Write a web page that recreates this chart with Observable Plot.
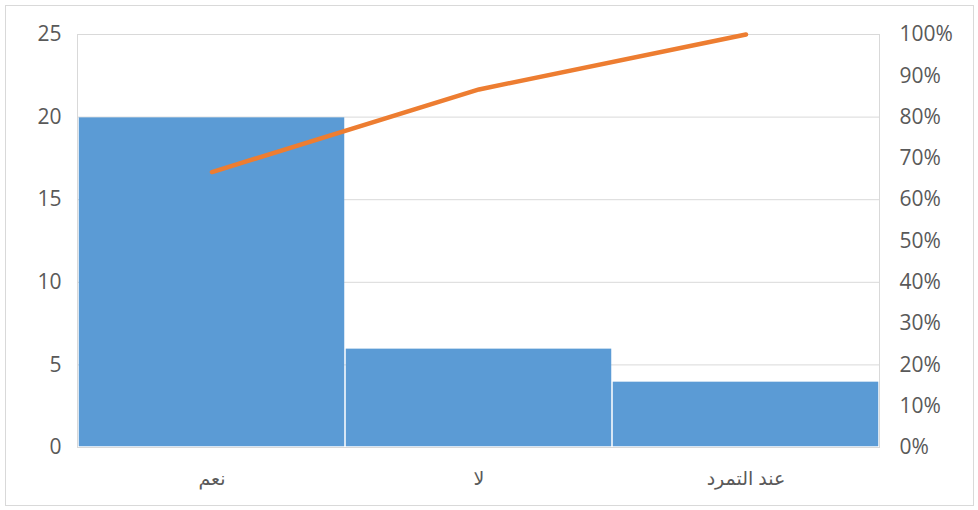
<!DOCTYPE html>
<html><head><meta charset="utf-8">
<script src="https://cdn.jsdelivr.net/npm/d3@7"></script>
<script src="https://cdn.jsdelivr.net/npm/@observablehq/plot@0.6"></script>
<style>body{margin:0;background:#fff}</style>
</head><body><div id="chart"></div>
<script>
const categories = ["نعم", "لا", "عند التمرد"];
const counts = [20, 6, 4];
const cumulativePct = [66.7, 86.7, 100];
const leftTicks = [0, 5, 10, 15, 20, 25];
const rightTickPct = [0, 10, 20, 30, 40, 50, 60, 70, 80, 90, 100];
const yMax = 25;

const bars = categories.map((c, i) => ({cat: c, count: counts[i]}));
const line = categories.map((c, i) => ({cat: c, pct: cumulativePct[i] * yMax / 100}));

const chart = Plot.plot({
  width: 978,
  height: 510,
  marginLeft: 77,
  marginRight: 99,
  marginTop: 34,
  marginBottom: 63,
  style: {fontFamily: "'Open Sans', 'DejaVu Sans', sans-serif", fontSize: "19px", color: "#595959", background: "#fff"},
  x: {domain: categories, padding: 0, label: null},
  y: {domain: [0, yMax], label: null},
  marks: [
    Plot.frame({stroke: "#d9d9d9", insetLeft: -72, insetTop: -29, insetRight: -94, insetBottom: -58}),
    Plot.ruleY(leftTicks.filter(d => d > 0), {stroke: "#d9d9d9"}),
    Plot.frame({stroke: "#d9d9d9"}),
    Plot.barY(bars, {x: "cat", y: "count", fill: "#5b9bd5", inset: 0.75}),
    Plot.line(line, {x: "cat", y: "pct", stroke: "#ed7d31", strokeWidth: 4.5, strokeLinejoin: "round", strokeLinecap: "round"}),
    Plot.axisY(leftTicks, {anchor: "left", tickSize: 0, tickPadding: 16, label: null, fill: "#595959", fontSize: 21}),
    Plot.axisY(rightTickPct.map(p => p * yMax / 100), {anchor: "right", tickSize: 0, tickPadding: 20, label: null, fill: "#595959", fontSize: 21, tickFormat: d => Math.round(d * 100 / yMax) + "%"}),
    Plot.axisX({tickSize: 0, tickPadding: 24, label: null, fill: "#595959"})
  ]
});
document.getElementById("chart").appendChild(chart);
</script>
</body></html>
